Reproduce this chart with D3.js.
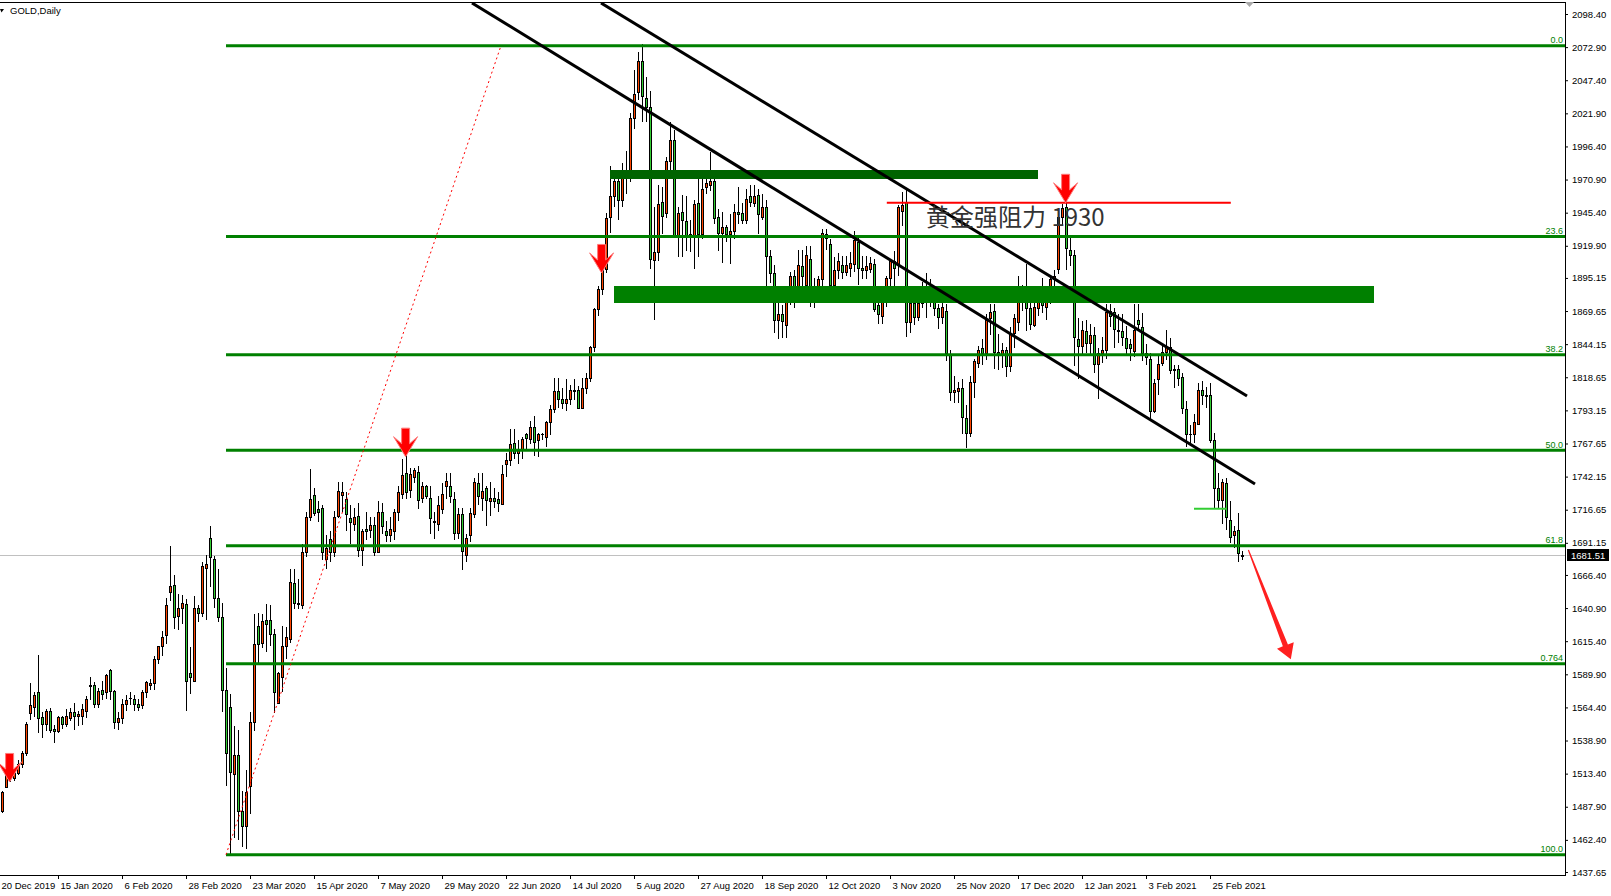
<!DOCTYPE html>
<html><head><meta charset="utf-8">
<script src="https://cdn.jsdelivr.net/npm/d3@7"></script>
<style>html,body{margin:0;padding:0;background:#fff;overflow:hidden}svg{display:block}</style>
</head><body><svg id="c" width="1611" height="896"></svg>
<script>
// ---------------- DATA ----------------
const symbolTitle = "GOLD,Daily";
const yTickValues = [2098.40,2072.90,2047.40,2021.90,1996.40,1970.90,1945.40,1919.90,1895.15,1869.65,1844.15,1818.65,1793.15,1767.65,1742.15,1716.65,1691.15,1666.40,1640.90,1615.40,1589.90,1564.40,1538.90,1513.40,1487.90,1462.40,1437.65];
const xTickLabels = ["20 Dec 2019","15 Jan 2020","6 Feb 2020","28 Feb 2020","23 Mar 2020","15 Apr 2020","7 May 2020","29 May 2020","22 Jun 2020","14 Jul 2020","5 Aug 2020","27 Aug 2020","18 Sep 2020","12 Oct 2020","3 Nov 2020","25 Nov 2020","17 Dec 2020","12 Jan 2021","3 Feb 2021","25 Feb 2021"];
const xTickBars = [-2,14,30,46,62,78,94,110,126,142,158,174,190,206,222,238,254,270,286,302];
// daily bars [open, high, low, close], 24 Dec 2019 .. 9 Mar 2021
const ohlc = [
[1485,1500,1483,1499],[1503,1515,1502,1513],[1513,1516,1507,1510],[1510,1517,1508,1514],[1514,1524,1512,1521],
[1521,1531,1518,1529],[1529,1553,1527,1552],[1560,1583,1555,1566],[1565,1576,1557,1574],[1576,1605,1545,1556],
[1557,1561,1541,1552],[1552,1563,1546,1562],[1562,1564,1545,1547],[1548,1551,1537,1546],[1546,1558,1545,1557],
[1557,1558,1548,1552],[1552,1563,1549,1558],[1556,1564,1554,1561],[1561,1568,1547,1558],[1558,1562,1550,1559],
[1558,1567,1551,1563],[1562,1573,1556,1571],[1581,1588,1570,1582],[1582,1584,1564,1567],[1567,1579,1564,1577],
[1578,1585,1570,1575],[1576,1590,1571,1589],[1593,1594,1570,1577],[1577,1578,1548,1553],[1553,1561,1547,1556],
[1556,1571,1552,1567],[1567,1574,1562,1570],[1572,1576,1566,1572],[1571,1574,1562,1567],[1567,1571,1562,1565],
[1566,1578,1563,1576],[1576,1585,1572,1584],[1582,1586,1578,1583],[1583,1604,1578,1602],[1602,1612,1598,1612],
[1612,1623,1604,1619],[1620,1649,1613,1643],[1653,1689,1646,1658],[1659,1666,1625,1634],[1635,1652,1624,1641],
[1641,1651,1629,1645],[1644,1648,1562,1585],[1591,1611,1575,1588],[1585,1650,1584,1641],[1641,1643,1630,1637],
[1637,1676,1634,1673],[1672,1682,1632,1675],[1695,1704,1657,1680],[1679,1681,1641,1649],[1649,1671,1630,1634],
[1634,1645,1561,1578],[1578,1595,1504,1529],[1565,1575,1451,1515],[1513,1550,1464,1528],[1528,1547,1462,1485],
[1485,1500,1457,1473],[1473,1516,1455,1499],[1504,1561,1482,1553],[1553,1636,1546,1613],[1627,1637,1597,1613],
[1614,1636,1610,1631],[1632,1644,1607,1629],[1632,1643,1612,1621],[1621,1625,1560,1576],[1568,1592,1567,1591],
[1588,1627,1576,1612],[1612,1626,1602,1619],[1617,1671,1614,1661],[1660,1671,1640,1645],[1645,1663,1640,1644],
[1643,1690,1640,1684],[1684,1715,1680,1711],[1711,1748,1708,1725],[1728,1733,1712,1714],[1717,1723,1707,1715],
[1718,1720,1678,1684],[1679,1697,1671,1687],[1694,1700,1676,1684],[1684,1716,1680,1711],[1712,1738,1710,1731],
[1728,1738,1715,1730],[1725,1730,1700,1713],[1710,1720,1690,1707],[1706,1718,1700,1711],[1712,1722,1680,1686],
[1686,1702,1673,1700],[1702,1715,1693,1700],[1701,1711,1695,1705],[1705,1711,1681,1684],[1684,1723,1683,1715],
[1715,1722,1698,1704],[1700,1708,1692,1697],[1697,1711,1692,1702],[1700,1717,1693,1715],[1715,1735,1708,1730],
[1729,1756,1725,1743],[1745,1759,1725,1730],[1732,1749,1726,1744],[1742,1749,1737,1747],[1746,1750,1717,1724],
[1726,1738,1722,1735],[1735,1736,1725,1727],[1726,1735,1698,1710],[1708,1715,1694,1707],[1706,1727,1700,1720],
[1717,1737,1713,1729],[1735,1745,1725,1739],[1735,1745,1722,1727],[1725,1730,1693,1699],[1699,1718,1694,1713],
[1713,1718,1670,1685],[1682,1698,1676,1695],[1697,1718,1692,1714],[1713,1741,1710,1738],[1737,1745,1720,1727],
[1726,1745,1716,1731],[1733,1735,1704,1724],[1723,1738,1712,1726],[1726,1733,1718,1723],[1725,1730,1715,1722],
[1721,1751,1720,1744],[1752,1760,1742,1755],[1755,1779,1750,1767],[1768,1779,1756,1760],[1760,1770,1752,1763],
[1763,1773,1756,1771],[1775,1776,1763,1772],[1771,1785,1767,1780],[1780,1789,1758,1769],[1770,1776,1757,1775],
[1775,1776,1770,1775],[1773,1785,1765,1784],[1784,1797,1774,1794],[1794,1818,1791,1808],[1808,1818,1795,1802],
[1802,1810,1794,1799],[1799,1817,1793,1802],[1802,1813,1797,1809],[1809,1817,1801,1808],[1809,1812,1795,1795],
[1795,1818,1794,1810],[1810,1822,1806,1818],[1818,1843,1815,1842],[1842,1872,1838,1871],[1871,1889,1866,1887],
[1887,1908,1882,1904],[1902,1945,1899,1941],[1942,1981,1930,1958],[1958,1975,1950,1970],[1970,1974,1940,1955],
[1955,1984,1950,1976],[1978,1993,1960,1976],[1976,2022,1969,2018],[2018,2055,2010,2037],[2038,2069,2032,2062],
[2062,2075,2015,2035],[2034,2050,2015,2027],[2027,2039,1902,1910],[1909,1950,1863,1915],[1915,1967,1908,1952],
[1954,1965,1929,1943],[1945,1988,1941,1985],[1985,2015,1978,2001],[2001,2009,1926,1927],[1927,1950,1911,1945],
[1946,1959,1911,1940],[1939,1958,1916,1928],[1929,1940,1915,1928],[1928,1955,1902,1952],[1953,1977,1911,1929],
[1929,1975,1925,1964],[1965,1975,1960,1968],[1967,1992,1962,1970],[1970,1974,1937,1941],[1942,1948,1916,1930],
[1930,1946,1907,1934],[1934,1936,1923,1929],[1929,1944,1906,1931],[1931,1952,1925,1946],[1946,1965,1937,1944],
[1945,1953,1937,1940],[1940,1964,1937,1956],[1958,1967,1950,1954],[1953,1967,1950,1958],[1959,1964,1929,1944],
[1942,1960,1940,1950],[1950,1955,1882,1912],[1912,1917,1891,1899],[1899,1905,1853,1863],[1863,1876,1848,1867],
[1867,1874,1849,1862],[1859,1883,1849,1881],[1880,1900,1874,1897],[1897,1901,1872,1885],[1884,1917,1882,1905],
[1904,1917,1886,1897],[1890,1920,1887,1913],[1910,1920,1873,1877],[1877,1895,1872,1887],[1887,1897,1881,1894],
[1894,1933,1889,1930],[1929,1933,1917,1926],[1921,1925,1883,1890],[1890,1911,1882,1901],[1901,1914,1894,1908],
[1905,1912,1894,1900],[1900,1912,1897,1905],[1903,1915,1896,1907],[1906,1931,1900,1924],[1923,1926,1890,1903],
[1903,1912,1894,1901],[1901,1912,1894,1904],[1902,1911,1899,1907],[1906,1910,1869,1871],[1874,1880,1860,1867],
[1866,1884,1860,1879],[1877,1897,1873,1895],[1895,1910,1887,1908],[1908,1916,1879,1903],[1906,1951,1897,1950],
[1947,1961,1935,1951],[1954,1963,1850,1861],[1861,1881,1853,1876],[1876,1879,1859,1865],[1865,1881,1862,1876],
[1876,1892,1872,1889],[1889,1899,1864,1886],[1889,1894,1873,1880],[1880,1884,1866,1872],[1872,1875,1856,1865],
[1865,1876,1860,1873],[1870,1875,1831,1837],[1836,1840,1800,1807],[1807,1820,1799,1809],[1808,1815,1799,1810],
[1810,1817,1775,1788],[1787,1797,1764,1776],[1776,1820,1773,1815],[1815,1833,1803,1831],[1830,1843,1826,1840],
[1841,1848,1828,1837],[1837,1867,1832,1863],[1864,1875,1851,1869],[1870,1875,1825,1838],[1838,1852,1824,1836],
[1836,1845,1826,1840],[1840,1842,1819,1827],[1827,1857,1823,1853],[1853,1867,1841,1864],[1861,1897,1854,1885],
[1885,1890,1870,1881],[1882,1906,1854,1872],[1872,1882,1855,1860],[1859,1878,1857,1873],[1872,1884,1866,1878],
[1883,1895,1868,1874],[1873,1884,1863,1877],[1877,1896,1875,1894],[1894,1901,1886,1897],[1902,1944,1898,1942],
[1942,1952,1935,1949],[1950,1959,1901,1918],[1917,1927,1904,1913],[1913,1917,1827,1850],[1848,1864,1817,1843],
[1843,1862,1836,1855],[1854,1863,1837,1845],[1845,1860,1835,1851],[1851,1857,1822,1829],[1829,1841,1802,1837],
[1837,1850,1830,1840],[1840,1875,1833,1869],[1870,1875,1857,1866],[1869,1872,1841,1856],[1855,1867,1845,1854],
[1854,1867,1843,1850],[1849,1858,1835,1841],[1844,1848,1831,1841],[1839,1875,1834,1855],[1863,1875,1855,1860],
[1857,1868,1831,1837],[1837,1844,1828,1834],[1833,1837,1786,1793],[1793,1817,1791,1814],[1817,1836,1805,1829],
[1830,1843,1827,1838],[1838,1855,1832,1842],[1842,1849,1821,1824],[1825,1828,1810,1824],[1825,1828,1812,1818],
[1819,1822,1790,1795],[1794,1800,1765,1775],[1775,1782,1766,1775],[1775,1790,1768,1784],[1783,1814,1782,1809],
[1809,1816,1797,1805],[1805,1811,1795,1804],[1805,1814,1768,1770],[1770,1776,1717,1733],[1733,1745,1717,1724],
[1724,1740,1706,1738],[1737,1741,1701,1711],[1709,1723,1691,1696],[1697,1704,1687,1700],[1701,1714,1676,1683],
[1681,1685,1678,1681.5]
];
const currentPrice = 1681.51;
const fibHigh = 2074, fibLow = 1451, fibStartBar = 56, fibEndBar = 124.75;
const fibRatios = [0, 0.236, 0.382, 0.5, 0.618, 0.764, 1];
const fibLabels = ["0.0","23.6","38.2","50.0","61.8","0.764","100.0"];
// trend lines [bar, price] pairs
const trendLines = [[[117.5,2106.9],[313.25,1736.4]], [[149.75,2106.9],[311.25,1804.2]]];
// zones [barFrom, barTo, priceTop, priceBottom, colour]
const zones = [[152,259,1978.3,1971.3,"#006400"],[153,343,1889,1876,"#008000"]];
const resistanceLine = {from:221.2, to:307.2, price:1953};
const resistanceText = {bar:231, price:1935, text:"黄金强阻力 1930"};
const limeLine = {from:298, to:306, price:1717.4};
const downArrows = [[1.9,1507],[100.9,1757.5],[149.9,1899],[265.9,1953]];
const forecastArrow = {tail:[311.6,1685.6], tip:[322.2,1601.4]};

// ---------------- CHART ----------------
const svg = d3.select("#c");
const plotRight = 1565, plotTop = 2, plotBottom = 875;
const FONT = "'Liberation Sans', Arial, sans-serif";
const y = d3.scaleLinear().domain([yTickValues[yTickValues.length-1], yTickValues[0]]).range([872, 14]);
const x = d3.scaleLinear().domain([0, 1]).range([2, 6]);

svg.append("rect").attr("width",1611).attr("height",896).attr("fill","#fff");
svg.append("defs").append("clipPath").attr("id","clip").append("rect")
  .attr("x",0).attr("y",plotTop).attr("width",plotRight).attr("height",plotBottom-plotTop);
const plot = svg.append("g").attr("clip-path","url(#clip)");

// current price line
plot.append("line").attr("x1",0).attr("x2",plotRight)
  .attr("y1",Math.round(y(currentPrice))+0.5).attr("y2",Math.round(y(currentPrice))+0.5)
  .attr("stroke","#c0c0c0").attr("stroke-width",1);

// candles
const gC = plot.append("g").attr("shape-rendering","crispEdges");
const bars = gC.selectAll("g").data(ohlc.map((d,i)=>({o:d[0],h:d[1],l:d[2],c:d[3],i}))).join("g");
const bTop = d=>Math.round(y(Math.max(d.o,d.c)));
const bBot = d=>Math.round(y(Math.min(d.o,d.c)));
bars.append("rect")
  .attr("x",d=>Math.round(x(d.i))).attr("width",1)
  .attr("y",d=>Math.round(y(d.h)))
  .attr("height",d=>Math.max(1,Math.round(y(d.l))-Math.round(y(d.h))))
  .attr("fill","#000");
bars.append("rect")
  .attr("x",d=>Math.round(x(d.i))-1).attr("width",3)
  .attr("y",bTop)
  .attr("height",d=>Math.max(1,bBot(d)-bTop(d)+1))
  .attr("fill","#000");
bars.filter(d=>bBot(d)-bTop(d)>=2).append("rect")
  .attr("x",d=>Math.round(x(d.i))).attr("width",1)
  .attr("y",d=>bTop(d)+1)
  .attr("height",d=>bBot(d)-bTop(d)-1)
  .attr("fill",d=>d.c>=d.o?"#ff4500":"#32cd32");

// zones
plot.append("g").attr("shape-rendering","crispEdges").selectAll("rect").data(zones).join("rect")
  .attr("x",d=>x(d[0])).attr("width",d=>x(d[1])-x(d[0]))
  .attr("y",d=>y(d[2])).attr("height",d=>y(d[3])-y(d[2]))
  .attr("fill",d=>d[4]);

// fib levels
const fibPrice = r => fibHigh - r*(fibHigh-fibLow);
plot.append("g").selectAll("line").data(fibRatios).join("line")
  .attr("x1",x(fibStartBar)).attr("x2",plotRight)
  .attr("y1",r=>y(fibPrice(r))).attr("y2",r=>y(fibPrice(r)))
  .attr("stroke","#008000").attr("stroke-width",3);
svg.append("g").selectAll("text").data(fibRatios).join("text")
  .attr("x",1563).attr("y",r=>y(fibPrice(r))-2.5)
  .attr("text-anchor","end").attr("font-family",FONT).attr("font-size",9)
  .attr("fill","#008000").text((r,i)=>fibLabels[i]);
plot.append("line")
  .attr("x1",x(fibStartBar)).attr("y1",y(fibLow)).attr("x2",x(fibEndBar)).attr("y2",y(fibHigh))
  .attr("stroke","#ff0000").attr("stroke-width",1).attr("stroke-dasharray","2,3");

// trend lines
plot.append("g").selectAll("line").data(trendLines).join("line")
  .attr("x1",d=>x(d[0][0])).attr("y1",d=>y(d[0][1]))
  .attr("x2",d=>x(d[1][0])).attr("y2",d=>y(d[1][1]))
  .attr("stroke","#000").attr("stroke-width",3);

// resistance line + text
plot.append("line").attr("x1",x(resistanceLine.from)).attr("x2",x(resistanceLine.to))
  .attr("y1",y(resistanceLine.price)).attr("y2",y(resistanceLine.price))
  .attr("stroke","#ff0000").attr("stroke-width",2);
plot.append("text").attr("x",x(resistanceText.bar)).attr("y",y(resistanceText.price))
  .attr("font-family","'Noto Sans CJK SC','Noto Sans',sans-serif").attr("font-size",24)
  .attr("fill","#333").text(resistanceText.text);

// lime level
plot.append("line").attr("x1",x(limeLine.from)).attr("x2",x(limeLine.to))
  .attr("y1",y(limeLine.price)).attr("y2",y(limeLine.price))
  .attr("stroke","#32cd32").attr("stroke-width",2);

// down arrows
const arrowShape = [[-4,-28.5],[4,-28.5],[4,-13],[12,-20],[0,0],[-12,-20],[-4,-13]];
plot.append("g").selectAll("polygon").data(downArrows).join("polygon")
  .attr("points",d=>arrowShape.map(p=>[x(d[0])+p[0],y(d[1])+p[1]].join(",")).join(" "))
  .attr("fill","#ff0000").attr("stroke","#ff7a7a").attr("stroke-width",1).attr("stroke-linejoin","miter");

// forecast arrow
(function(){
  const t=[x(forecastArrow.tail[0]),y(forecastArrow.tail[1])], h=[x(forecastArrow.tip[0]),y(forecastArrow.tip[1])];
  const dx=h[0]-t[0], dy=h[1]-t[1], L=Math.hypot(dx,dy), ux=dx/L, uy=dy/L, nx=-uy, ny=ux;
  const hl=15, hw=9, sw=2.7, tw=0.6;
  const b=[h[0]-ux*hl,h[1]-uy*hl];
  const pts=[[t[0]+nx*tw,t[1]+ny*tw],[b[0]+nx*sw,b[1]+ny*sw],[b[0]+nx*hw,b[1]+ny*hw],h,
             [b[0]-nx*hw,b[1]-ny*hw],[b[0]-nx*sw,b[1]-ny*sw],[t[0]-nx*tw,t[1]-ny*tw]];
  plot.append("polygon").attr("points",pts.map(p=>p.join(",")).join(" ")).attr("fill","#ff2020");
})();

// frame
const fr = svg.append("g").attr("shape-rendering","crispEdges").attr("fill","#000");
fr.append("rect").attr("x",0).attr("y",plotTop).attr("width",plotRight).attr("height",1);
fr.append("rect").attr("x",plotRight).attr("y",plotTop).attr("width",1).attr("height",plotBottom-plotTop+1);
fr.append("rect").attr("x",0).attr("y",plotBottom).attr("width",plotRight+1).attr("height",1);

// axes
const yAxis = d3.axisRight(y).tickValues(yTickValues).tickFormat(d3.format(".2f")).tickSize(3).tickPadding(4);
svg.append("g").attr("transform",`translate(${plotRight},0)`).call(yAxis)
  .call(g=>g.select(".domain").remove())
  .call(g=>g.selectAll("text").attr("font-family",FONT).attr("font-size",9.5).attr("fill","#000"))
  .call(g=>g.selectAll("line").attr("stroke","#000"));
const xAxis = d3.axisBottom(x).tickValues(xTickBars).tickFormat((d,i)=>xTickLabels[i]).tickSize(4).tickPadding(3);
svg.append("g").attr("transform",`translate(0,${plotBottom})`).call(xAxis)
  .call(g=>g.select(".domain").remove())
  .call(g=>g.selectAll("text").attr("text-anchor","start")
     .attr("dx",(d,i)=>Math.max(2, 1 - x(d)))
     .attr("font-family",FONT).attr("font-size",9.5).attr("fill","#000"))
  .call(g=>g.selectAll("line").attr("stroke","#000"));

// current price tag
const cy = y(currentPrice);
svg.append("rect").attr("x",1567).attr("y",Math.round(cy)-6).attr("width",42).attr("height",12).attr("fill","#000");
svg.append("text").attr("x",1571).attr("y",Math.round(cy)+3.5).attr("font-family",FONT).attr("font-size",9.5)
  .attr("fill","#fff").text(d3.format(".2f")(currentPrice));

// title + markers
svg.append("polygon").attr("points","0,9 4,9 1.5,12.5").attr("fill","#000");
svg.append("text").attr("x",10).attr("y",14).attr("font-family",FONT).attr("font-size",9.5)
  .attr("fill","#000").text(symbolTitle);
svg.append("polygon").attr("points","1245,2 1254,2 1249.5,7").attr("fill","#a9a9a9");
</script>
</body></html>
